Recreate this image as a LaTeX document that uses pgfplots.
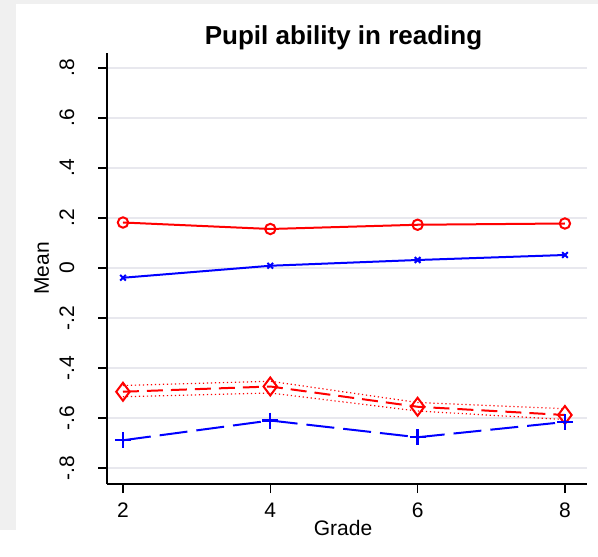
\documentclass[border=0pt]{standalone}
\usepackage{pgfplots}
\pgfplotsset{compat=1.18}
\usepackage{fontspec}
\setmainfont{Liberation Sans}
\definecolor{bggray}{RGB}{240,240,240}
\definecolor{gridc}{RGB}{232,232,238}
\definecolor{sred}{RGB}{255,0,0}
\definecolor{sblue}{RGB}{0,0,255}
\begin{document}
\begin{tikzpicture}
\path[use as bounding box] (0pt,0pt) rectangle (299pt,278pt);
\fill[white] (0pt,0pt) rectangle (299pt,278pt);
\fill[bggray] (0pt,13pt) rectangle (8pt,278pt);
\fill[bggray] (0pt,276pt) rectangle (299pt,278pt);
\begin{axis}[
  at={(53.5pt,36pt)}, anchor=south west,
  scale only axis, width=240pt, height=215.5pt,
  xmin=1.783, xmax=8.30, ymin=-0.864, ymax=0.86,
  axis lines=left, axis line style={line width=0.75pt, -},
  xtick={2,4,6,8},
  ytick={-0.8,-0.6,-0.4,-0.2,0,0.2,0.4,0.6,0.8},
  yticklabels={-.8,-.6,-.4,-.2,0,.2,.4,.6,.8},
  tick align=outside, major tick length=4.5pt,
  tick style={line width=0.6pt, black},
  ymajorgrids, grid style={gridc, line width=0.7pt},
  /pgf/number format/assume math mode=true,
  tick label style={font=\fontsize{10.5}{12}\selectfont},
  yticklabel style={xshift=-12pt, rotate=90, anchor=base},
  xticklabel style={anchor=base, yshift=-12pt},
  xlabel={Grade}, ylabel={Mean},
  label style={font=\fontsize{10.5}{12}\selectfont},
  xlabel style={at={(axis description cs:0.5,0)}, anchor=base, yshift=-25.5pt, xshift=-2pt},
  ylabel style={at={(axis description cs:-0.121,0.5)}, anchor=base, rotate=0},
  title={Pupil ability in reading},
  title style={font=\fontsize{13}{15}\bfseries, at={(axis description cs:0.5,1)}, anchor=base, yshift=-2pt, xshift=-1.75pt},
  clip=false,
]
\addplot[sred, line width=1pt, mark=o, mark size=2.6pt, mark options={solid, line width=1pt}]
  coordinates {(2,0.182) (4,0.156) (6,0.173) (8,0.178)};
\addplot[sblue, line width=1pt, mark=x, mark size=2pt, mark options={solid, line width=1pt}]
  coordinates {(2,-0.039) (4,0.009) (6,0.032) (8,0.052)};
\addplot[sred, line width=0.6pt, dash pattern=on 0.6pt off 1.4pt]
  coordinates {(2,-0.470) (4,-0.453) (6,-0.538) (8,-0.563)};
\addplot[sred, line width=0.6pt, dash pattern=on 0.6pt off 1.4pt]
  coordinates {(2,-0.515) (4,-0.500) (6,-0.572) (8,-0.606)};
\addplot[sred, line width=1pt, dash pattern=on 8pt off 4pt, mark=diamond, mark size=4.5pt, mark options={solid, line width=1pt}]
  coordinates {(2,-0.495) (4,-0.474) (6,-0.555) (8,-0.588)};
\addplot[sblue, line width=1pt, dash pattern=on 14pt off 4.5pt, mark=+, mark size=4pt, mark options={solid, line width=1.2pt}]
  coordinates {(2,-0.689) (4,-0.610) (6,-0.677) (8,-0.616)};
\end{axis}
\end{tikzpicture}
\end{document}
